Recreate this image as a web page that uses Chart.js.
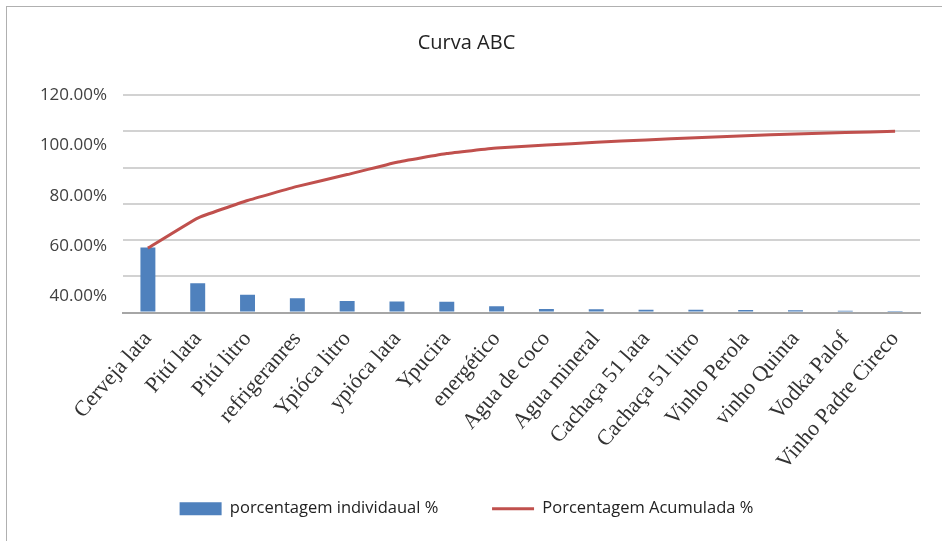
<!DOCTYPE html>
<html>
<head>
<meta charset="utf-8">
<script src="https://cdn.jsdelivr.net/npm/chart.js@4"></script>
<style>
	html, body { margin: 0; padding: 0; background: #fff; overflow: hidden; }
	#wrap { position: relative; width: 942px; height: 541px; }
	#frame { position: absolute; left: 6px; top: 6px; width: 1000px; height: 1000px; border: 1px solid #b0b0b0; pointer-events: none; }
</style>
</head>
<body>
<div id="wrap">
	<canvas id="abc_chart" width="942" height="541"></canvas>
	<div id="frame"></div>
</div>
<script>
// produtos (categorias)
const produtos = [
	'Cerveja lata', 'Pitú lata', 'Pitú litro', 'refrigeranres', 'Ypióca litro',
	'ypióca lata', 'Ypucira', 'energético', 'Agua de coco', 'Agua mineral',
	'Cachaça 51 lata', 'Cachaça 51 litro', 'Vinho Perola', 'vinho Quinta',
	'Vodka Palof', 'Vinho Padre Cireco',
]

// porcentagem individual de cada produto (%)
const individual = [35.8, 16.1, 9.8, 7.8, 6.4, 6.1, 5.9, 3.5, 2.0, 1.8, 1.5, 1.5, 1.4, 1.3, 1.0, 0.3]

// porcentagem acumulada (%)
const acumulada = [35.5, 52.1, 61.8, 69.6, 76.1, 82.9, 87.7, 90.7, 92.4, 93.9, 95.2, 96.4, 97.5, 98.5, 99.3, 100]

// rótulos do eixo y como aparecem no gráfico
const yLabelTicks = [40, 60, 80, 100, 120]

const ctx = document.getElementById('abc_chart')

new Chart(ctx, {
	data: {
		labels: produtos,
		datasets: [
			{
				type: 'line',
				label: 'Porcentagem Acumulada %',
				data: acumulada,
				borderColor: '#c0504d',
				backgroundColor: '#c0504d',
				borderWidth: 3,
				pointRadius: 0,
				pointStyle: 'line',
				tension: 0.1,
				yAxisID: 'y',
				order: 1,
			},
			{
				type: 'bar',
				label: 'porcentagem individaual %',
				data: individual,
				backgroundColor: '#4f81bd',
				pointStyle: 'rect',
				barPercentage: 0.3,
				categoryPercentage: 1,
				yAxisID: 'y',
				order: 2,
			},
		],
	},
	options: {
		responsive: false,
		animation: false,
		layout: { padding: { left: 13, right: 22, top: 6, bottom: 14 } },
		plugins: {
			title: {
				display: true,
				text: 'Curva ABC',
				color: '#222',
				font: { family: 'Open Sans', size: 20, weight: 'normal' },
				padding: { top: 25, bottom: 40 },
			},
			legend: {
				position: 'bottom',
				reverse: true,
				labels: {
					usePointStyle: true,
					pointStyleWidth: 42,
					boxHeight: 13,
					padding: 28,
					color: '#222',
					font: { family: 'Open Sans', size: 16.5 },
					// extra space after the first item, the gap is wider in the original
					generateLabels: chart => {
						const items = Chart.defaults.plugins.legend.labels.generateLabels(chart)
						items.forEach(item => {
							if (item.datasetIndex === 1) item.text += '      '
						})
						return items
					},
				},
			},
			tooltip: { enabled: false },
		},
		scales: {
			x: {
				grid: { display: false, drawTicks: false },
				border: { color: '#a6a6a6', width: 2 },
				ticks: {
					autoSkip: false,
					minRotation: 49,
					maxRotation: 49,
					padding: 14,
					color: '#333',
					font: { family: 'Liberation Serif', size: 22 },
				},
				afterFit: axis => { axis.height = 160 },
			},
			// eixo dos dados (0% a 120%)
			y: {
				position: 'left',
				min: 0,
				max: 120,
				ticks: { display: false, stepSize: 20 },
				grid: { color: '#d2d2d2', lineWidth: 2, drawTicks: false },
				border: { display: false },
				afterFit: axis => { axis.width = 0 },
			},
			// eixo só dos rótulos, como no original
			yl: {
				position: 'left',
				min: 33.6,
				max: 120,
				grid: { display: false, drawTicks: false },
				border: { display: false },
				afterBuildTicks: axis => {
					axis.ticks = yLabelTicks.map(v => ({ value: v }))
				},
				ticks: {
					padding: 16,
					color: '#404040',
					font: { family: 'Open Sans', size: 17 },
					callback: value => value.toFixed(2) + '%',
				},
				afterFit: axis => { axis.width = 110 },
			},
		},
	},
})
</script>
</body>
</html>
